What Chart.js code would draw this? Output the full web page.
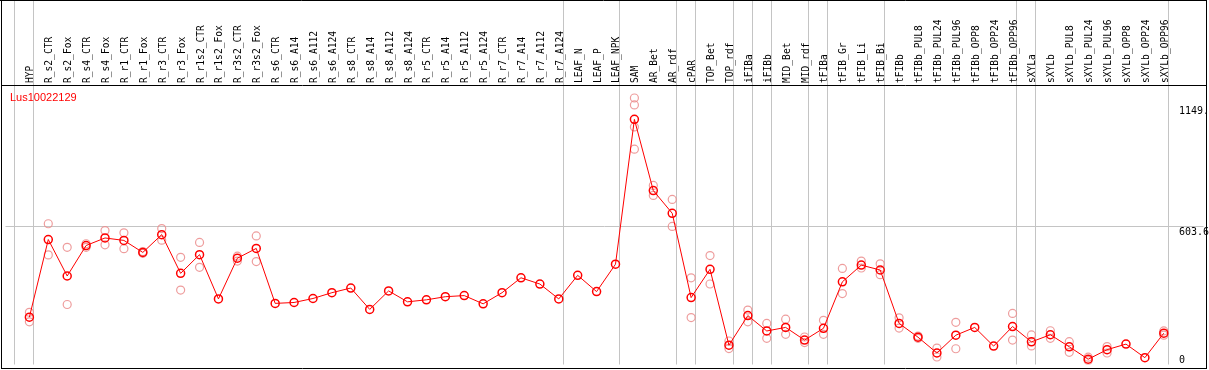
<!DOCTYPE html>
<html>
<head>
<meta charset="utf-8">
<script src="https://cdn.jsdelivr.net/npm/chart.js@4/dist/chart.umd.min.js"></script>
<style>
  html, body { margin: 0; padding: 0; background: #fff; }
  #wrap { width: 1209px; height: 370px; }
</style>
</head>
<body>
<div id="wrap"><canvas id="chart" width="1209" height="370"></canvas></div>
<script>
// Образцы (подписи сверху)
const samples = [
  "HYP", "R_s2_CTR", "R_s2_Fox", "R_s4_CTR", "R_s4_Fox", "R_r1_CTR", "R_r1_Fox",
  "R_r3_CTR", "R_r3_Fox", "R_r1s2_CTR", "R_r1s2_Fox", "R_r3s2_CTR", "R_r3s2_Fox",
  "R_s6_CTR", "R_s6_A14", "R_s6_A112", "R_s6_A124", "R_s8_CTR", "R_s8_A14",
  "R_s8_A112", "R_s8_A124", "R_r5_CTR", "R_r5_A14", "R_r5_A112", "R_r5_A124",
  "R_r7_CTR", "R_r7_A14", "R_r7_A112", "R_r7_A124", "LEAF_N", "LEAF_P", "LEAF_NPK",
  "SAM", "AR_Bet", "AR_rdf", "cPAR", "TOP_Bet", "TOP_rdf", "iFIBa", "iFIBb",
  "MID_Bet", "MID_rdf", "tFIBa", "tFIB_Gr", "tFIB_Li", "tFIB_Bi", "tFIBb",
  "tFIBb_PUL8", "tFIBb_PUL24", "tFIBb_PUL96", "tFIBb_OPP8", "tFIBb_OPP24", "tFIBb_OPP96",
  "sXYLa", "sXYLb", "sXYLb_PUL8", "sXYLb_PUL24", "sXYLb_PUL96", "sXYLb_OPP8",
  "sXYLb_OPP24", "sXYLb_OPP96"
]

// Средние значения экспрессии
const means = [
  195, 544, 380, 517, 551, 540, 486, 566, 392, 476, 277, 460, 504,
  257, 261, 279, 305, 326, 230, 313, 264, 273, 287, 292, 255,
  305, 372, 344, 277, 383, 310, 433,
  1084, 764, 662, 283, 410, 69, 202, 133, 149, 92, 145, 354, 429, 407,
  167, 105, 34, 114, 149, 65, 153,
  84, 116, 62, 6, 49, 74, 13, 123
]

// Отдельные повторности
const replicates = [
  [217, 174], [615, 475], [509, 252], [525, 509], [584, 520], [574, 503], [490, 482],
  [593, 541], [464, 317], [531, 419], [], [469, 447], [560, 445],
  [], [], [], [], [], [], [], [], [], [], [], [],
  [], [], [], [], [], [], [],
  [1180, 1149, 1050, 950], [787, 742], [724, 603], [372, 193], [472, 344], [88, 54],
  [227, 174], [167, 100], [186, 118], [106, 81], [181, 118], [414, 301], [447, 416], [435, 386],
  [192, 146], [110, 100], [56, 16], [172, 53], [], [], [212, 92],
  [115, 66], [134, 100], [85, 37], [15, 0], [63, 34], [], [], [133, 114]
]

// Последний образец каждой группы (после него серая линия)
const groupEnds = [-1, 0, 28, 31, 34, 35, 37, 38, 39, 41, 42, 45, 52, 53, 60]

// Подписи правой оси
const yTicks = [0, 603.6, 1149]
const geneName = "Lus10022129"

const meanPoints = means.map((v, i) => ({ x: i, y: v }))
const repPoints = []
replicates.forEach((reps, i) => reps.forEach(v => repPoints.push({ x: i, y: v })))

const monoFont = "\"DejaVu Sans Mono\", monospace"

const framePlugin = {
  id: "frame",
  beforeDraw(chart) {
    const { ctx, chartArea, scales: { x, y } } = chart
    ctx.save()
    ctx.fillStyle = "#fff"
    ctx.fillRect(0, 0, chart.width, chart.height)

    // серые разделители групп
    ctx.strokeStyle = "#c4c4c4"
    ctx.lineWidth = 1
    groupEnds.forEach(g => {
      const px = Math.floor(x.getPixelForValue(g + 0.23)) + 0.5
      ctx.beginPath()
      ctx.moveTo(px, 0)
      ctx.lineTo(px, chartArea.bottom)
      ctx.stroke()
    })

    // линия сетки на 603.6
    const gy = Math.floor(y.getPixelForValue(yTicks[1])) + 0.5
    ctx.beginPath()
    ctx.moveTo(chartArea.left, gy)
    ctx.lineTo(chartArea.right, gy)
    ctx.stroke()

    // подписи образцов
    ctx.fillStyle = "#000"
    ctx.font = "9.6px " + monoFont
    ctx.textAlign = "left"
    ctx.textBaseline = "alphabetic"
    samples.forEach((s, i) => {
      const px = x.getPixelForValue(i)
      ctx.save()
      ctx.translate(px + 4, 83)
      ctx.rotate(-Math.PI / 2)
      ctx.fillText(s, 0, 0)
      ctx.restore()
    })
    ctx.restore()
  },
  afterDraw(chart) {
    const { ctx, chartArea, scales: { y } } = chart
    ctx.save()
    ctx.strokeStyle = "#000"
    ctx.lineWidth = 1
    ctx.beginPath()
    ctx.moveTo(0, 0.5); ctx.lineTo(1207, 0.5)
    ctx.moveTo(1.5, 0); ctx.lineTo(1.5, 369)
    ctx.moveTo(1206.5, 0); ctx.lineTo(1206.5, 369)
    ctx.moveTo(1, 85.5); ctx.lineTo(1207, 85.5)
    ctx.moveTo(1, 368.5); ctx.lineTo(1207, 368.5)
    ctx.stroke()

    ctx.fillStyle = "#ff0000"
    ctx.font = "11px \"Liberation Sans\", Arial, sans-serif"
    ctx.textBaseline = "alphabetic"
    ctx.fillText(geneName, 10, 101)

    ctx.fillStyle = "#000"
    ctx.font = "10px " + monoFont
    ctx.textBaseline = "top"
    yTicks.forEach(v => {
      let py = y.getPixelForValue(v) + 1
      py = Math.min(py, chartArea.bottom - 9)
      const label = v === 1149 ? "1149." : String(v)
      ctx.fillText(label, 1179, py)
    })
    ctx.restore()
  }
}

new Chart(document.getElementById("chart"), {
  data: {
    datasets: [
      {
        type: "line",
        label: "mean",
        data: meanPoints,
        borderColor: "#ff0000",
        borderWidth: 1,
        pointRadius: 4,
        pointBorderWidth: 1.5,
        pointBorderColor: "#ff0000",
        pointBackgroundColor: "rgba(0,0,0,0)",
        tension: 0,
        order: 1
      },
      {
        type: "scatter",
        label: "replicates",
        data: repPoints,
        pointRadius: 4,
        pointBorderWidth: 1.2,
        pointBorderColor: "rgba(235, 140, 140, 0.85)",
        pointBackgroundColor: "rgba(0,0,0,0)",
        order: 2
      }
    ]
  },
  options: {
    responsive: false,
    animation: false,
    devicePixelRatio: 1,
    layout: { padding: { top: 86, left: 2, right: 3, bottom: 1 } },
    plugins: {
      legend: { display: false },
      tooltip: { enabled: false }
    },
    scales: {
      x: { type: "linear", display: false, min: -1.263, max: 62.1 },
      y: { type: "linear", display: false, min: -17.7, max: 1234 }
    }
  },
  plugins: [framePlugin]
})
</script>
</body>
</html>
